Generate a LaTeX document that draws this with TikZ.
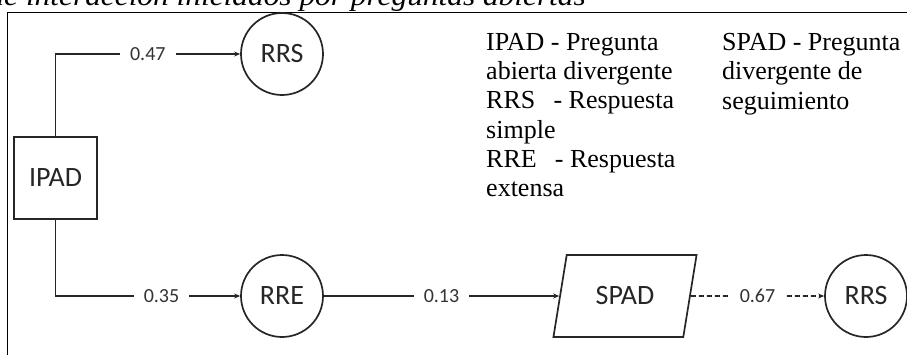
\documentclass[tikz,border=0pt]{standalone}
\usepackage{fontspec}
\setmainfont{Liberation Serif}
\newfontfamily\labelfont{Carlito}
\usetikzlibrary{arrows.meta,shapes.geometric}

\begin{document}
\begin{tikzpicture}[x=1pt,y=-1pt,
  conn/.style={line width=1.8pt, draw=black!85, -{Stealth[length=6pt,width=5pt]}},
  state/.style={circle, draw=black!85, line width=1.7pt, minimum size=82pt, inner sep=0pt,
    font=\labelfont\fontsize{28}{28}\selectfont, text=black!85},
  procbox/.style={rectangle, draw=black!85, line width=1.7pt, minimum width=83pt, minimum height=82pt,
    inner sep=0pt, font=\labelfont\fontsize{28}{28}\selectfont, text=black!85},
  iobox/.style={trapezium, trapezium left angle=70, trapezium right angle=110, trapezium stretches=true,
    draw=black!85, line width=1.7pt, minimum width=144pt, minimum height=82pt, inner sep=0pt,
    font=\labelfont\fontsize{28}{28}\selectfont, text=black!85},
  lbl/.style={fill=white, inner xsep=10pt, inner ysep=2pt, font=\labelfont\fontsize{20}{20}\selectfont, text=black!80},
  legend/.style={align=left, anchor=north west, inner sep=0pt, font=\fontsize{26}{29.3}\selectfont}
]
\useasboundingbox (0,0) rectangle (907,354);

% caption line above the frame, mostly cut off by the page edge
\node[anchor=base east, inner sep=0pt, font=\itshape\fontsize{28}{28}\selectfont] (title) at (586,5.5)
  {\scalebox{1.12}[1]{de interacción iniciados por preguntas abiertas}};

% frame
\draw[line width=1.5pt] (7.5,370) -- (7.5,12.5) -- (920,12.5);

% states
\node[procbox] (ipad) at (55.5,178) {IPAD};
\node[state] (rrsA) at (282,54) {RRS};
\node[state] (rre) at (282,296) {RRE};
\node[iobox] (spad) at (625,296) {SPAD};
\node[state] (rrsB) at (866,296) {RRS};

% transitions
\draw[conn] (ipad.north) |- node[lbl, pos=0.75] {0.47} (rrsA.west);
\draw[conn] (ipad.south) |- node[lbl, pos=0.787] {0.35} (rre.west);
\draw[conn] (rre.east) -- node[lbl] {0.13} (spad.west);
\draw[conn, dash pattern=on 5pt off 3pt] (spad.east) -- node[lbl] {0.67} (rrsB.west);

% legend
\node[legend] (legA) at (486,33) {IPAD - Pregunta\\abierta divergente\\RRS\hspace{0.45em} - Respuesta\\simple\\RRE\hspace{0.45em} - Respuesta\\extensa};
\node[legend] (legB) at (722,33) {SPAD - Pregunta\\divergente de\\seguimiento};
\end{tikzpicture}
\end{document}
